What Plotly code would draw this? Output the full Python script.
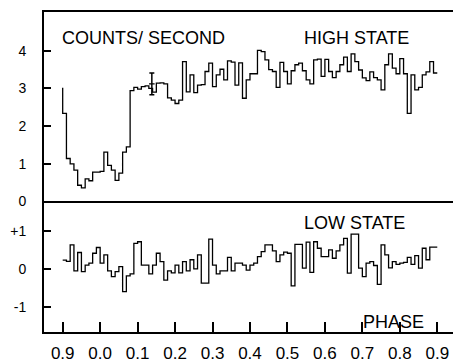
import plotly.graph_objects as go

# ---- data -------------------------------------------------------------
BIN_WIDTH = 0.01
PHASE_START = -0.1          # phase 0.9 of the previous cycle
HIGH_START_LEVEL = 3.02     # level at the left edge before the first bin

high_state = [
    2.34, 1.14, 1.00, 0.83, 0.43, 0.36, 0.60, 0.55, 0.78, 0.78,
    0.80, 1.31, 0.96, 0.83, 0.56, 0.75, 1.31, 1.45, 2.94, 3.03,
    2.98, 3.05, 3.07, 3.00, 2.90, 3.14, 3.15, 3.12, 2.75, 2.69,
    2.60, 2.69, 3.71, 2.91, 3.36, 2.89, 3.09, 3.10, 3.45, 3.67,
    3.05, 3.36, 3.51, 3.23, 3.73, 3.70, 3.09, 3.68, 2.74, 3.23,
    3.39, 3.39, 4.01, 3.98, 3.76, 3.50, 3.45, 3.03, 3.69, 3.45,
    3.12, 3.47, 3.63, 3.67, 3.47, 3.23, 3.12, 3.76, 3.78, 3.32,
    3.77, 3.45, 3.29, 3.45, 3.63, 3.83, 3.45, 3.92, 3.71, 3.49,
    3.28, 3.21, 3.44, 3.29, 3.23, 2.96, 3.63, 3.92, 3.54, 3.39,
    3.79, 3.39, 2.34, 3.36, 2.96, 3.03, 3.36, 3.44, 3.71, 3.41,
]

low_state = [
    0.23, 0.20, 0.63, -0.05, 0.43, -0.07, 0.10, 0.15, 0.41, 0.56,
    0.15, 0.37, -0.05, -0.20, -0.07, 0.06, -0.59, -0.18, -0.13, 0.67,
    0.71, 0.10, 0.10, -0.13, 0.10, 0.41, 0.19, -0.29, -0.05, -0.10,
    0.10, -0.10, 0.19, -0.05, 0.24, 0.00, 0.37, -0.37, -0.37, 0.78,
    0.10, -0.13, -0.05, -0.05, 0.30, -0.05, 0.15, 0.15, 0.10, -0.03,
    0.10, 0.15, 0.32, 0.45, 0.63, 0.63, 0.47, 0.19, 0.37, 0.44,
    0.41, -0.44, 0.64, 0.64, 0.02, 0.70, -0.09, 0.71, 0.54, 0.32,
    0.32, 0.50, 0.28, 0.47, 0.63, 0.80, -0.11, 0.91, 0.91, 0.02,
    -0.20, 0.15, 0.19, 0.09, -0.40, 0.63, 0.37, 0.03, 0.19, 0.12,
    0.15, 0.17, 0.30, 0.12, 0.35, 0.02, 0.54, 0.24, 0.57, 0.57,
]

errbar_phase = [0.138]
errbar_value = [3.12]
errbar_sigma = [0.29]

x_tick_vals = [-0.1, 0.0, 0.1, 0.2, 0.3, 0.4, 0.5, 0.6, 0.7, 0.8, 0.9]
x_tick_text = ["0.9", "0.0", "0.1", "0.2", "0.3", "0.4", "0.5", "0.6", "0.7", "0.8", "0.9"]
high_tick_vals = [0, 1, 2, 3, 4]
high_tick_text = ["0", "1", "2", "3", "4"]
low_tick_vals = [-1, 0, 1]
low_tick_text = ["-1", "0", "+1"]

# ---- build step outlines -------------------------------------------------
def edges(n):
    return [round(PHASE_START + BIN_WIDTH * i, 4) for i in range(n + 1)]

hx = edges(len(high_state))
high_x = [hx[0]] + hx
high_y = [HIGH_START_LEVEL] + high_state + [high_state[-1]]

lx = edges(len(low_state))
low_x = lx
low_y = low_state + [low_state[-1]]

FONT = "Liberation Sans, Arial, sans-serif"
LINE = dict(color="black", width=1.3)

fig = go.Figure()
fig.add_trace(go.Scatter(x=high_x, y=high_y, mode="lines", line=dict(shape="hv", **LINE),
                         xaxis="x", yaxis="y", showlegend=False, hoverinfo="skip"))
fig.add_trace(go.Scatter(x=errbar_phase, y=errbar_value, mode="markers",
                         marker=dict(size=4, color="black", symbol="line-ew-open", line=dict(width=1.3, color="black")),
                         error_y=dict(type="data", array=errbar_sigma, color="black", thickness=1.5, width=2.5),
                         xaxis="x", yaxis="y", showlegend=False, hoverinfo="skip"))
fig.add_trace(go.Scatter(x=low_x, y=low_y, mode="lines", line=dict(shape="hv", **LINE),
                         xaxis="x2", yaxis="y2", showlegend=False, hoverinfo="skip"))

XR = [-0.1499, 0.942]
SPLIT = 0.408

axis_common = dict(showgrid=False, zeroline=False, showline=True, linecolor="black", linewidth=2,
                   automargin=False)
yfont = dict(family=FONT, size=14, color="black")
xfont = dict(family=FONT, size=17, color="black")

fig.update_layout(
    width=453, height=364,
    margin=dict(l=44, r=0, t=12, b=32, autoexpand=False),
    paper_bgcolor="white", plot_bgcolor="white",
    xaxis=dict(domain=[0, 1], anchor="y", range=XR, showticklabels=False, ticks="",
               mirror=True, **axis_common),
    xaxis2=dict(domain=[0, 1], anchor="y2", range=XR, matches="x", tickmode="array",
                tickvals=x_tick_vals, ticktext=x_tick_text, ticks="inside", ticklen=10,
                tickwidth=1.5, tickcolor="black", ticklabelstandoff=5, tickfont=xfont,
                **axis_common),
    yaxis=dict(domain=[SPLIT, 1], anchor="x", range=[0, 5.03], tickmode="array",
               tickvals=high_tick_vals, ticktext=high_tick_text, ticks="inside", ticklen=7,
               tickwidth=1.5, tickcolor="black", ticklabelstandoff=13, tickfont=yfont,
               **axis_common),
    yaxis2=dict(domain=[0, SPLIT], anchor="x2", range=[-1.645, 1.762], tickmode="array",
                tickvals=low_tick_vals, ticktext=low_tick_text, ticks="inside", ticklen=7,
                tickwidth=1.5, tickcolor="black", ticklabelstandoff=13, tickfont=yfont,
                **axis_common),
)

def ann(text, xp, yp):
    fig.add_annotation(text=text, xref="paper", yref="paper", x=xp, y=yp,
                       xanchor="left", yanchor="middle", showarrow=False,
                       font=dict(family=FONT, size=18, color="black"))

ann("COUNTS/ SECOND", 0.039, 0.920)
ann("HIGH STATE", 0.630, 0.920)
ann("LOW STATE", 0.630, 0.3406)
ann("PHASE", 0.7743, 0.0297)

fig.write_html("out.html")
